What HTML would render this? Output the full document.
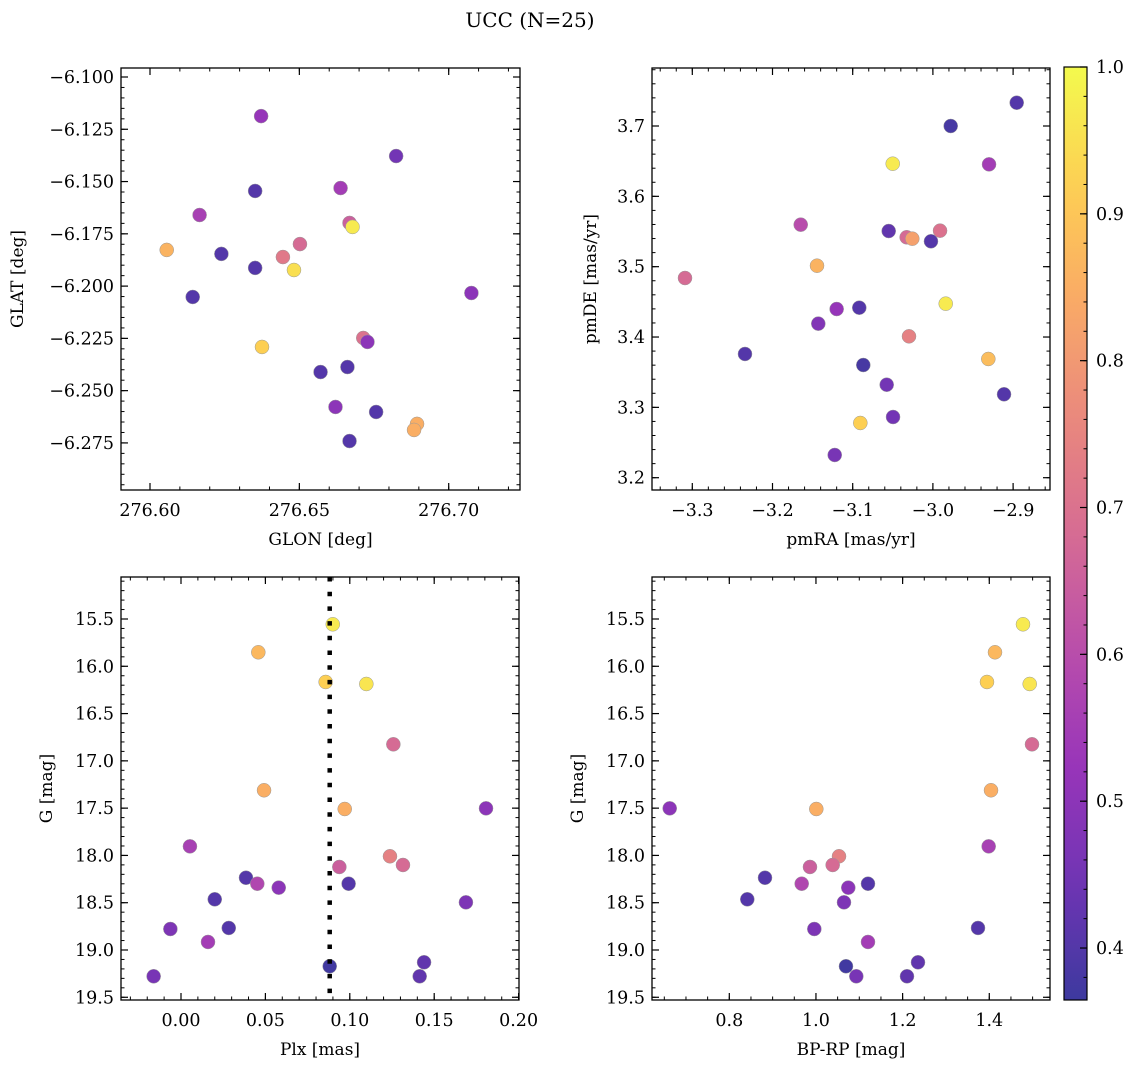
<!DOCTYPE html>
<html><head><meta charset="utf-8"><style>
html,body{margin:0;padding:0;background:#fff;}
svg text{font-family:"DejaVu Serif","Liberation Serif",serif;fill:#000;}
</style></head><body>
<svg id="fig" width="1136" height="1067" xmlns="http://www.w3.org/2000/svg">
<text x="530" y="27" font-size="20" text-anchor="middle">UCC (N=25)</text>
</svg>
<script>
// Panel 1 data: GLON / GLAT
const glon = [276.6372,276.6824,276.6638,276.6352,276.6166,276.6668,276.6678,276.6056,276.6239,276.6502,276.6445,276.6352,276.6482,276.6143,276.7076,276.6375,276.6714,276.6728,276.6571,276.6661,276.6621,276.6757,276.6894,276.6884,276.6668];
const glat = [-6.1187,-6.1378,-6.1531,-6.1545,-6.166,-6.1698,-6.1717,-6.1827,-6.1846,-6.1799,-6.1861,-6.1913,-6.1923,-6.2052,-6.2033,-6.2291,-6.2248,-6.2267,-6.2411,-6.2387,-6.2578,-6.2602,-6.2659,-6.2688,-6.2741];
const prob1 = [0.52,0.45,0.55,0.4,0.56,0.65,0.97,0.86,0.4,0.68,0.72,0.4,0.95,0.4,0.5,0.92,0.7,0.5,0.4,0.4,0.5,0.4,0.85,0.85,0.4];
// Panel 2 data: pmRA / pmDE
const pmra = [-2.8955,-2.9778,-3.0501,-2.93,-3.1648,-3.0551,-3.0327,-3.0257,-3.0024,-2.9911,-3.1445,-3.3091,-2.984,-3.12,-3.0918,-3.1429,-3.0298,-3.2343,-2.9309,-3.0868,-3.0576,-2.9113,-3.0497,-3.0905,-3.1224];
const pmde = [3.7331,3.7,3.6464,3.6455,3.5597,3.5507,3.5418,3.5398,3.5361,3.5512,3.5014,3.4839,3.4474,3.4398,3.4417,3.419,3.401,3.3759,3.3688,3.3602,3.3322,3.3186,3.2863,3.2778,3.2323];
const prob2 = [0.4,0.38,0.97,0.55,0.6,0.42,0.68,0.82,0.4,0.7,0.86,0.68,0.97,0.52,0.4,0.48,0.74,0.4,0.88,0.38,0.45,0.4,0.45,0.92,0.46];
// Panel 3 data: Plx / G
const plx = [0.0899,0.0458,0.0857,0.1098,0.1258,0.0492,0.097,0.1807,0.0053,0.1238,0.1315,0.0938,0.0385,0.0452,0.0579,0.0993,0.02,0.1688,-0.0063,0.0283,0.016,0.0881,0.144,0.1414,-0.0162];
const gmag = [15.556,15.852,16.166,16.187,16.825,17.311,17.509,17.502,17.904,18.009,18.101,18.122,18.236,18.299,18.341,18.299,18.464,18.496,18.778,18.767,18.915,19.172,19.13,19.278,19.278];
const prob3 = [0.97,0.87,0.92,0.96,0.68,0.85,0.85,0.5,0.56,0.74,0.68,0.65,0.4,0.58,0.5,0.4,0.4,0.47,0.47,0.4,0.55,0.37,0.42,0.42,0.46];
const plxMean = [0.0881];
// Panel 4 data: BP-RP / G (same stars/G as panel 3)
const bprp = [1.4778,1.4132,1.3947,1.4933,1.4986,1.404,1.0008,0.6625,1.3986,1.0532,1.0386,0.9862,0.8824,0.9671,1.0746,1.1201,0.8415,1.0647,0.9962,1.374,1.1201,1.0693,1.2355,1.2101,1.0931];
// tick labels
const ticks1x = ["276.60","276.65","276.70"];
const ticks1y = ["-6.100","-6.125","-6.150","-6.175","-6.200","-6.225","-6.250","-6.275"];
const ticks2x = ["-3.3","-3.2","-3.1","-3.0","-2.9"];
const ticks2y = ["3.2","3.3","3.4","3.5","3.6","3.7"];
const ticks3x = ["0.00","0.05","0.10","0.15","0.20"];
const ticksG = ["15.5","16.0","16.5","17.0","17.5","18.0","18.5","19.0","19.5"];
const ticks4x = ["0.8","1.0","1.2","1.4"];
const ticksCb = ["0.4","0.5","0.6","0.7","0.8","0.9","1.0"];

const NS="http://www.w3.org/2000/svg";
const svg=document.getElementById('fig');
function el(tag,attrs,parent){const e=document.createElementNS(NS,tag);for(const k in attrs)e.setAttribute(k,attrs[k]);(parent||svg).appendChild(e);return e;}
const VMIN=0.3646,VMAX=1.0;
const stops=[[13,8,135],[76,2,161],[126,3,168],[168,34,150],[204,71,120],[229,107,93],[248,149,64],[253,195,40],[240,249,33]];
function plasma(t){t=Math.max(0,Math.min(1,t));const p=t*8,i=Math.min(7,Math.floor(p)),f=p-i;const a=stops[i],b=stops[i+1];
 const c=a.map((v,k)=>Math.round(v+(b[k]-v)*f));
 return 'rgb('+c.map(v=>Math.round(v*0.8+255*0.2)).join(',')+')';}
function fmt(s){return s.replace('-','\u2212');}
const FS=17.5;

function panel(name,L,T,R,B,xmin,xmax,ymin,ymax,invertY,xt,yt,xMinorStep,yMinorStep,xlabel,ylabel,xs,ys,ps){
 const g=el('g',{});
 
 
 const sx=v=>L+(v-xmin)/(xmax-xmin)*(R-L);
 const sy=invertY? v=>T+(v-ymin)/(ymax-ymin)*(B-T) : v=>B-(v-ymin)/(ymax-ymin)*(B-T);
 ps.forEach((p,i)=>{
  const c=el('circle',{cx:sx(xs[i]),cy:sy(ys[i]),r:7,fill:plasma((ps[i]-VMIN)/(VMAX-VMIN)),stroke:'#9a9a9a','stroke-width':0.5},g);
  
  
 });
 for(let v=Math.ceil(xmin/xMinorStep-1e-6)*xMinorStep;v<=xmax+1e-9;v+=xMinorStep){const x=sx(v);
  el('line',{x1:x,x2:x,y1:B,y2:B-3.5,stroke:'#000','stroke-width':1},g);el('line',{x1:x,x2:x,y1:T,y2:T+3.5,stroke:'#000','stroke-width':1},g);}
 const ylo=Math.min(ymin,ymax),yhi=Math.max(ymin,ymax);
 for(let v=Math.ceil(ylo/yMinorStep-1e-6)*yMinorStep;v<=yhi+1e-9;v+=yMinorStep){const y=sy(v);
  el('line',{x1:L,x2:L+3.5,y1:y,y2:y,stroke:'#000','stroke-width':1},g);el('line',{x1:R,x2:R-3.5,y1:y,y2:y,stroke:'#000','stroke-width':1},g);}
 xt.forEach(s=>{const x=sx(parseFloat(s));
  el('line',{x1:x,x2:x,y1:B,y2:B-7,stroke:'#000','stroke-width':1.2},g);el('line',{x1:x,x2:x,y1:T,y2:T+7,stroke:'#000','stroke-width':1.2},g);
  const t=el('text',{x:x,y:B+26,'font-size':FS,'text-anchor':'middle'},g);t.textContent=fmt(s);
  
  });
 yt.forEach(s=>{const y=sy(parseFloat(s));
  el('line',{x1:L,x2:L+7,y1:y,y2:y,stroke:'#000','stroke-width':1.2},g);el('line',{x1:R,x2:R-7,y1:y,y2:y,stroke:'#000','stroke-width':1.2},g);
  const t=el('text',{x:L-7,y:y+6,'font-size':FS,'text-anchor':'end'},g);t.textContent=fmt(s);
  
  });
 el('rect',{x:L,y:T,width:R-L,height:B-T,fill:'none',stroke:'#000','stroke-width':1.3},g);
 const xl=el('text',{x:(L+R)/2,y:B+55,'font-size':17,'text-anchor':'middle'},g);xl.textContent=xlabel;
 
 
 const cyy=(T+B)/2;
 const yl=el('text',{x:0,y:0,'font-size':17,'text-anchor':'middle',transform:`translate(${ylabel[1]},${cyy}) rotate(-90)`},g);yl.textContent=ylabel[0];
 
 
 return {sx,sy,g};
}
const X1=276.6+(121-150)/2987, X1b=276.6+(520-150)/2987;
const Y1a=-6.1-(490-77)/2091, Y1b=-6.1+(77-68)/2091;
panel('glon-glat-panel',121,68,520,490,X1,X1b,Y1a,Y1b,false,ticks1x,ticks1y,0.01,0.005,'GLON [deg]',['GLAT [deg]',23],glon,glat,prob1);
panel('pm-panel',652,68,1050,490,-3.3+(652-692.3)/802,-3.3+(1050-692.3)/802,3.2-(490-477.7)/703.4,3.7+(126-68)/703.4,false,ticks2x,ticks2y,0.02,0.02,'pmRA [mas/yr]',['pmDE [mas/yr]',596],pmra,pmde,prob2);
const gTop=15.5-(619-577)/94.57, gBot=15.5+(1000-619)/94.57;
const p3=panel('plx-g-panel',121,577,519,1000,(121-181)/1688,(519-181)/1688,gTop,gBot,true,ticks3x,ticksG,0.01,0.1,'Plx [mas]',['G [mag]',52],plx,gmag,prob3);
const ml=el('line',{x1:p3.sx(plxMean[0]),x2:p3.sx(plxMean[0]),y1:577,y2:1000,stroke:'#000','stroke-width':4.5,'stroke-dasharray':'4.5,10.2'},p3.g);


panel('cmd-panel',652,577,1050,1000,0.8+(652-729.3)/433.3,0.8+(1050-729.3)/433.3,gTop,gBot,true,ticks4x,ticksG,0.05,0.1,'BP-RP [mag]',['G [mag]',583],bprp,gmag,prob3);

// colorbar
const cb=el('g',{});


const CL=1064,CR=1087,CT=67,CB=1000;
const defs=el('defs',{},cb);const lg=el('linearGradient',{id:'cbg',x1:0,y1:1,x2:0,y2:0},defs);
for(let i=0;i<=20;i++){el('stop',{offset:i/20,'stop-color':plasma(i/20)},lg);}
el('rect',{x:CL,y:CT,width:CR-CL,height:CB-CT,fill:'url(#cbg)',stroke:'#000','stroke-width':1.2},cb);
const cy=v=>CB-(v-VMIN)/(VMAX-VMIN)*(CB-CT);
for(let v=0.38;v<=1.0001;v+=0.02){el('line',{x1:CR,x2:CR-3.5,y1:cy(v),y2:cy(v),stroke:'#000','stroke-width':1},cb);}
ticksCb.forEach(s=>{const y=cy(parseFloat(s));el('line',{x1:CR,x2:CR-7,y1:y,y2:y,stroke:'#000','stroke-width':1.2},cb);
 const t=el('text',{x:CR+9,y:y+6,'font-size':FS},cb);t.textContent=s;
 
 });
</script>
</body></html>
